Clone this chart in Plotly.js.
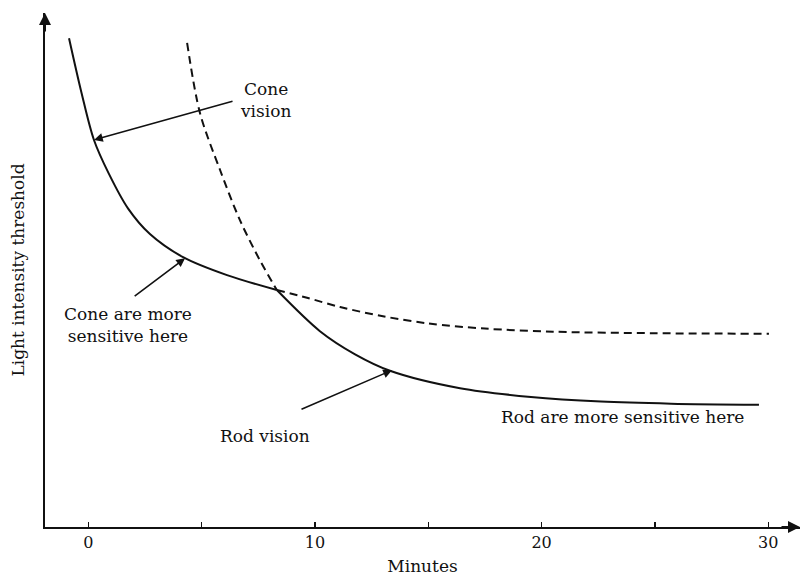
<!DOCTYPE html>
<html>
<head>
<meta charset="utf-8">
<script src="https://cdn.plot.ly/plotly-3.0.1.min.js"></script>
<style>html,body{margin:0;padding:0;background:#fff;}#chart{width:803px;height:577px;}</style>
</head>
<body>
<div id="chart"></div>
<script>
// Cone curve: solid until the crossing, dashed afterwards
const coneSolidX = [-0.85, -0.3, 0.25, 0.9, 1.75, 2.72, 4.18, 6.12, 8.32];
const coneSolidY = [95.1, 84.5, 75.3, 68.8, 62.0, 57.0, 52.5, 49.0, 46.1];
const coneDashX = [8.32, 9.65, 11.11, 13.0, 15.0, 17.5, 20.5, 25.0, 30.03];
const coneDashY = [46.1, 44.6, 42.8, 41.0, 39.6, 38.6, 38.0, 37.7, 37.6];
// Rod curve: dashed before the crossing, solid afterwards
const rodDashX = [4.36, 4.93, 5.81, 6.69, 7.57, 8.32];
const rodDashY = [94.2, 80.5, 69.5, 59.7, 51.9, 46.1];
const rodSolidX = [8.32, 10.22, 11.77, 13.31, 16.40, 19.53, 22.62, 25.71, 29.59];
const rodSolidY = [46.1, 38.1, 33.6, 30.4, 27.0, 25.3, 24.4, 24.0, 23.8];

const xTickVals = [0, 5, 10, 15, 20, 25, 30];
const xTickText = ['0', '', '10', '', '20', '', '30'];

const ink = '#111111';
const font = 'DejaVu Serif, serif';

const solid = {color: ink, width: 2, dash: 'solid', shape: 'spline', smoothing: 0.9};
const dashed = {color: ink, width: 2, dash: '8px,5px', shape: 'spline', smoothing: 0.9};

const traces = [
  {x: coneSolidX, y: coneSolidY, mode: 'lines', line: solid, name: 'Cone vision'},
  {x: coneDashX, y: coneDashY, mode: 'lines', line: dashed, name: 'Cone (dark)'},
  {x: rodDashX, y: rodDashY, mode: 'lines', line: dashed, name: 'Rod (early)'},
  {x: rodSolidX, y: rodSolidY, mode: 'lines', line: solid, name: 'Rod vision'}
];

function arrow(hx, hy, tx, ty) {
  return {x: hx, y: hy, xref: 'x', yref: 'y', ax: tx, ay: ty, axref: 'x', ayref: 'y',
    showarrow: true, arrowhead: 2, arrowsize: 1.1, arrowwidth: 1.6, arrowcolor: ink, text: ''};
}
function label(x, y, text) {
  return {x: x, y: y, xref: 'x', yref: 'y', text: text, showarrow: false,
    font: {family: font, size: 17, color: ink}, align: 'center'};
}

const layout = {
  width: 803, height: 577,
  margin: {l: 45, r: 3, t: 13, b: 50},
  paper_bgcolor: '#fff', plot_bgcolor: '#fff',
  showlegend: false,
  font: {family: font, color: ink, size: 16},
  xaxis: {
    range: [-1.91, 31.4], showgrid: false, zeroline: false,
    showline: true, linecolor: ink, linewidth: 2,
    tickmode: 'array', tickvals: xTickVals, ticktext: xTickText,
    ticks: 'inside', ticklen: 5, tickwidth: 1.5, tickcolor: ink,
    tickfont: {family: font, size: 16, color: ink},
    title: {text: 'Minutes', font: {family: font, size: 17, color: ink}, standoff: 9}
  },
  yaxis: {
    range: [0, 100], showgrid: false, zeroline: false,
    showline: true, linecolor: ink, linewidth: 2,
    showticklabels: false, ticks: '',
    title: {text: 'Light intensity threshold', font: {family: font, size: 17, color: ink}, standoff: 14}
  },
  annotations: [
    arrow(0.25, 75.3, 6.43, 82.9),
    arrow(4.27, 52.3, 1.98, 44.7),
    arrow(13.4, 30.5, 9.34, 22.8),
    label(7.8, 83.0, 'Cone<br>vision'),
    label(1.76, 39.3, 'Cone are more<br>sensitive here'),
    label(7.8, 17.7, 'Rod vision'),
    label(23.56, 21.4, 'Rod are more sensitive here'),
    {x: 0, y: 1, xref: 'paper', yref: 'paper', ax: 0, ay: 20, showarrow: true,
     arrowhead: 2, arrowsize: 1.2, arrowwidth: 2, arrowcolor: ink, text: ''},
    {x: 1, y: 0, xref: 'paper', yref: 'paper', ax: -20, ay: 0, showarrow: true,
     arrowhead: 2, arrowsize: 1.2, arrowwidth: 2, arrowcolor: ink, text: ''}
  ]
};

Plotly.newPlot('chart', traces, layout, {displayModeBar: false, staticPlot: true});
</script>
</body>
</html>
